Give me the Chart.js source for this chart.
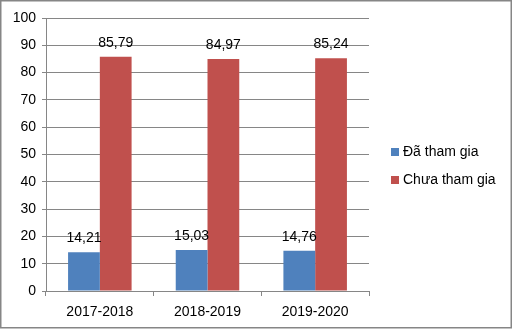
<!DOCTYPE html>
<html>
<head>
<meta charset="utf-8">
<script src="https://cdn.jsdelivr.net/npm/chart.js@4.4.1/dist/chart.umd.min.js"></script>
<style>
  html, body { margin: 0; padding: 0; background: #fff; }
  #wrap { width: 512px; height: 329px; position: relative; }
</style>
</head>
<body>
<div id="wrap"><canvas id="chart" width="512" height="329"></canvas></div>
<script>
// Data
const years = ['2017-2018', '2018-2019', '2019-2020'];
const joined = [14.21, 15.03, 14.76];
const notJoined = [85.79, 84.97, 85.24];
const seriesNames = ['Đã tham gia', 'Chưa tham gia'];
const yTicks = [0, 10, 20, 30, 40, 50, 60, 70, 80, 90, 100];

const FONT = '"Liberation Sans", Arial, sans-serif';

// Value labels above each bar, Vietnamese decimal comma
const valueLabels = {
    id: 'valueLabels',
    afterDatasetsDraw(chart) {
        const ctx = chart.ctx;
        ctx.save();
        ctx.font = '14px ' + FONT;
        ctx.fillStyle = '#000';
        ctx.textAlign = 'center';
        ctx.textBaseline = 'middle';
        chart.data.datasets.forEach(function(ds, i) {
            chart.getDatasetMeta(i).data.forEach(function(bar, j) {
                const txt = ds.data[j].toFixed(2).replace('.', ',');
                ctx.fillText(txt, bar.x, bar.y - 14);
            });
        });
        ctx.restore();
    }
};

// Legend on the right plus the outer frame
const sideLegend = {
    id: 'sideLegend',
    afterDraw(chart) {
        const ctx = chart.ctx;
        ctx.save();
        ctx.font = '14px ' + FONT;
        ctx.textBaseline = 'middle';
        chart.data.datasets.forEach(function(ds, i) {
            const y = 152 + i * 28;
            ctx.fillStyle = ds.backgroundColor;
            ctx.fillRect(391, y - 4, 8, 8);
            ctx.fillStyle = '#000';
            ctx.fillText(ds.label, 403, y);
        });
        ctx.strokeStyle = '#868686';
        ctx.lineWidth = 1.5;
        ctx.strokeRect(0.75, 0.75, 510.5, 327);
        ctx.restore();
    }
};

new Chart(document.getElementById('chart'), {
    type: 'bar',
    data: {
        labels: years,
        datasets: [{
            label: seriesNames[0],
            data: joined,
            backgroundColor: '#4F81BD',
            categoryPercentage: 0.59,
            barPercentage: 1
        }, {
            label: seriesNames[1],
            data: notJoined,
            backgroundColor: '#C0504D',
            categoryPercentage: 0.59,
            barPercentage: 1
        }]
    },
    options: {
        responsive: false,
        animation: false,
        layout: {
            padding: { left: 0, right: 143, top: 18, bottom: 0 }
        },
        plugins: {
            legend: { display: false },
            tooltip: { enabled: false }
        },
        scales: {
            x: {
                afterFit: function(s) { s.height = 38; },
                grid: {
                    offset: true,
                    drawOnChartArea: false,
                    color: '#868686',
                    tickLength: 5
                },
                border: { color: '#868686' },
                ticks: {
                    color: '#000',
                    font: { family: FONT, size: 14 },
                    padding: 8
                }
            },
            y: {
                min: 0,
                max: 100,
                afterFit: function(s) { s.width = 46; },
                afterBuildTicks: function(s) {
                    s.ticks = yTicks.map(function(v) { return { value: v }; });
                },
                grid: {
                    color: '#868686',
                    tickLength: 4
                },
                border: { color: '#868686' },
                ticks: {
                    color: '#000',
                    font: { family: FONT, size: 14 },
                    padding: 6
                }
            }
        }
    },
    plugins: [valueLabels, sideLegend]
});
</script>
</body>
</html>
